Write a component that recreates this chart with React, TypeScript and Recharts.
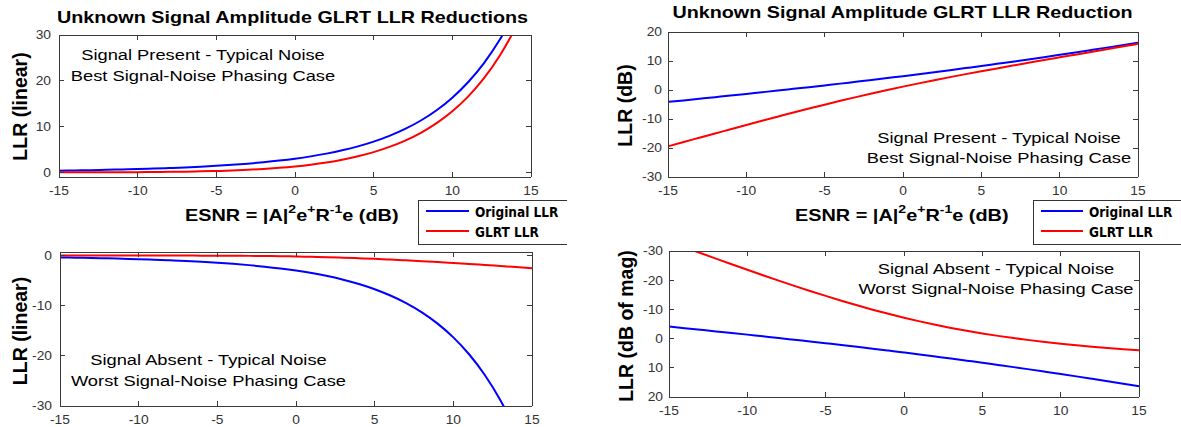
import React from 'react';
import { LineChart, Line, XAxis, YAxis } from 'recharts';

// ---------------- data ----------------
const ESNR_DB = [-15, -14, -13, -12, -11, -10, -9, -8, -7, -6, -5, -4, -3, -2, -1, 0, 1, 2, 3, 4, 5, 6, 7, 8, 9, 10, 11, 12, 13, 14, 15];

// Signal present, linear LLR
const ORIGINAL_PRESENT_LIN = [0.387, 0.439, 0.498, 0.566, 0.643, 0.732, 0.836, 0.955, 1.093, 1.254, 1.441, 1.66, 1.917, 2.22, 2.577, 3.0, 3.503, 4.103, 4.82, 5.682, 6.719, 7.972, 9.489, 11.333, 13.58, 16.325, 19.685, 23.811, 28.887, 35.143, 42.87];
const GLRT_PRESENT_LIN = [0.0114, 0.0161, 0.0226, 0.0317, 0.0445, 0.0622, 0.0867, 0.1203, 0.1662, 0.2283, 0.3117, 0.4223, 0.5676, 0.7564, 0.9988, 1.3069, 1.6947, 2.179, 2.7801, 3.5229, 4.4383, 5.5648, 6.9509, 8.6569, 10.7588, 13.3517, 16.5541, 20.5142, 25.4177, 31.4962, 39.0398];

// Signal present, LLR in dB
const ORIGINAL_PRESENT_DB = [-4.12, -3.58, -3.03, -2.47, -1.92, -1.36, -0.78, -0.2, 0.39, 0.98, 1.59, 2.2, 2.83, 3.46, 4.11, 4.77, 5.44, 6.13, 6.83, 7.55, 8.27, 9.02, 9.77, 10.54, 11.33, 12.13, 12.94, 13.77, 14.61, 15.46, 16.32];
const GLRT_PRESENT_DB = [-19.43, -17.93, -16.46, -14.99, -13.52, -12.06, -10.62, -9.2, -7.79, -6.41, -5.06, -3.74, -2.46, -1.21, -0.01, 1.16, 2.29, 3.38, 4.44, 5.47, 6.47, 7.45, 8.42, 9.37, 10.32, 11.26, 12.19, 13.12, 14.05, 14.98, 15.92];

// Signal absent, linear LLR
const ORIGINAL_ABSENT_LIN = [-0.387, -0.439, -0.498, -0.566, -0.643, -0.732, -0.836, -0.955, -1.093, -1.254, -1.441, -1.66, -1.917, -2.22, -2.577, -3.0, -3.503, -4.103, -4.82, -5.682, -6.719, -7.972, -9.489, -11.333, -13.58, -16.325, -19.685, -23.811, -28.887, -35.143, -42.87];
const GLRT_ABSENT_LIN = [-0.0005, -0.0008, -0.0012, -0.0018, -0.0028, -0.0044, -0.0068, -0.0103, -0.0156, -0.0233, -0.0345, -0.0504, -0.0724, -0.1023, -0.1419, -0.1931, -0.2576, -0.3365, -0.4309, -0.5409, -0.6663, -0.8064, -0.9601, -1.126, -1.3027, -1.4888, -1.6829, -1.8836, -2.09, -2.3009, -2.5157];

// Signal absent, dB of magnitude
const ORIGINAL_ABSENT_DBMAG = [-4.12, -3.58, -3.03, -2.47, -1.92, -1.36, -0.78, -0.2, 0.39, 0.98, 1.59, 2.2, 2.83, 3.46, 4.11, 4.77, 5.44, 6.13, 6.83, 7.55, 8.27, 9.02, 9.77, 10.54, 11.33, 12.13, 12.94, 13.77, 14.61, 15.46, 16.32];
const GLRT_ABSENT_DBMAG = [-33.19, -31.25, -29.3, -27.37, -25.45, -23.56, -21.7, -19.87, -18.07, -16.32, -14.62, -12.98, -11.4, -9.9, -8.48, -7.14, -5.89, -4.73, -3.66, -2.67, -1.76, -0.93, -0.18, 0.52, 1.15, 1.73, 2.26, 2.75, 3.2, 3.62, 4.01];

const X_TICKS = [-15, -10, -5, 0, 5, 10, 15];
const Y_TICKS_TL = [0, 10, 20, 30];
const Y_TICKS_BL = [-30, -20, -10, 0];
const Y_TICKS_TR = [-30, -20, -10, 0, 10, 20];
const Y_TICKS_BR = [-30, -20, -10, 0, 10, 20];

const SERIES_NAMES = ['Original LLR', 'GLRT LLR'];
const TITLE_LEFT = 'Unknown Signal Amplitude GLRT LLR Reductions';
const TITLE_RIGHT = 'Unknown Signal Amplitude GLRT LLR Reduction';
const NOTE_PRESENT = ['Signal Present - Typical Noise', 'Best Signal-Noise Phasing Case'];
const NOTE_ABSENT = ['Signal Absent - Typical Noise', 'Worst Signal-Noise Phasing Case'];
const YLABEL_LIN = 'LLR (linear)';
const YLABEL_DB = 'LLR (dB)';
const YLABEL_DBMAG = 'LLR (dB of mag)';

// ---------------- styles ----------------
const BLUE = '#0000ff';
const RED = '#ff0000';
const SERIES_COLORS = [BLUE, RED];
const AXIS = '#3a3a3a';
const TICK_COLOR = '#333333';
const FONT = "'Liberation Sans', Arial, Helvetica, sans-serif";
const LEGEND_FONT = "'DejaVu Sans', Verdana, sans-serif";
const TICK_LEN = 5;
const TICK_SX = 1.15;

const ML = 50, MT = 10, MR = 10, MB = 25;

const buildRows = (a: number[], b: number[]) => ESNR_DB.map((x, i) => ({ x, orig: a[i], glrt: b[i] }));

const BottomTick = (p: any) => (
  <g>
    <line x1={p.x} y1={p.y} x2={p.x} y2={p.y - TICK_LEN} stroke={AXIS} shapeRendering="crispEdges" />
    <text transform={`translate(${p.x},${p.y + 17.5}) scale(${TICK_SX},1)`} textAnchor="middle" fontSize={12} fill={TICK_COLOR} fontFamily={FONT}>
      {p.payload.value}
    </text>
  </g>
);
const TopTick = (p: any) => (
  <line x1={p.x} y1={p.y} x2={p.x} y2={p.y + TICK_LEN} stroke={AXIS} shapeRendering="crispEdges" />
);
const makeLeftTick = (gap: number) => (p: any) => (
  <g>
    <line x1={p.x} y1={p.y} x2={p.x + TICK_LEN} y2={p.y} stroke={AXIS} shapeRendering="crispEdges" />
    <text transform={`translate(${p.x - gap},${p.y + 4.3}) scale(${TICK_SX},1)`} textAnchor="end" fontSize={12} fill={TICK_COLOR} fontFamily={FONT}>
      {p.payload.value}
    </text>
  </g>
);
const RightTick = (p: any) => (
  <line x1={p.x} y1={p.y} x2={p.x - TICK_LEN} y2={p.y} stroke={AXIS} shapeRendering="crispEdges" />
);

type PanelProps = {
  left: number; top: number; plotW: number; plotH: number;
  rows: any[]; yDomain: [number, number]; yTicks: number[]; reversed?: boolean; gap: number;
};

function Panel({ left, top, plotW, plotH, rows, yDomain, yTicks, reversed, gap }: PanelProps) {
  const W = plotW + ML + MR;
  const H = plotH + MT + MB;
  const axisLine = { stroke: AXIS, shapeRendering: 'crispEdges' } as any;
  return (
    <div style={{ position: 'absolute', left: left - ML, top: top - MT, width: W, height: H }}>
      <LineChart width={W} height={H} data={rows} margin={{ top: 5, right: 5, bottom: 5, left: 0 }}>
        <XAxis xAxisId="b" dataKey="x" type="number" domain={[-15, 15]} ticks={X_TICKS} interval={0}
          orientation="bottom" height={20} tickSize={0} tickMargin={0} tickLine={false}
          axisLine={axisLine} tick={BottomTick} allowDataOverflow />
        <XAxis xAxisId="t" dataKey="x" type="number" domain={[-15, 15]} ticks={X_TICKS} interval={0}
          orientation="top" height={5} tickSize={0} tickMargin={0} tickLine={false}
          axisLine={axisLine} tick={TopTick} allowDataOverflow />
        <YAxis yAxisId="l" type="number" domain={yDomain} ticks={yTicks} interval={0}
          orientation="left" width={50} reversed={reversed} tickSize={0} tickMargin={0} tickLine={false}
          axisLine={axisLine} tick={makeLeftTick(gap)} allowDataOverflow />
        <YAxis yAxisId="r" type="number" domain={yDomain} ticks={yTicks} interval={0}
          orientation="right" width={5} reversed={reversed} tickSize={0} tickMargin={0} tickLine={false}
          axisLine={axisLine} tick={RightTick} allowDataOverflow />
        <Line xAxisId="b" yAxisId="l" dataKey="orig" name={SERIES_NAMES[0]} stroke={BLUE} strokeWidth={2}
          dot={false} activeDot={false} type="monotone" isAnimationActive={false} />
        <Line xAxisId="b" yAxisId="l" dataKey="glrt" name={SERIES_NAMES[1]} stroke={RED} strokeWidth={2}
          dot={false} activeDot={false} type="monotone" isAnimationActive={false} />
      </LineChart>
    </div>
  );
}

const Title = ({ cx, by, text }: { cx: number; by: number; text: string }) => (
  <text transform={`translate(${cx},${by}) scale(1.22,1)`} textAnchor="middle" fontSize={16.2}
    fontWeight="bold" fontFamily={FONT} fill="#000">{text}</text>
);

const Note = ({ cx, b1, b2, lines }: { cx: number; b1: number; b2: number; lines: string[] }) => (
  <g>
    <text transform={`translate(${cx},${b1}) scale(1.22,1)`} textAnchor="middle" fontSize={15} fontFamily={FONT} fill="#000">{lines[0]}</text>
    <text transform={`translate(${cx},${b2}) scale(1.22,1)`} textAnchor="middle" fontSize={15} fontFamily={FONT} fill="#000">{lines[1]}</text>
  </g>
);

const YLabel = ({ bx, cy, text }: { bx: number; cy: number; text: string }) => (
  <text transform={`translate(${bx},${cy}) rotate(-90)`} textAnchor="middle" fontSize={19.5}
    fontWeight="bold" fontFamily={FONT} fill="#000">{text}</text>
);

const XLabel = ({ x, by }: { x: number; by: number }) => (
  <text transform={`translate(${x},${by}) scale(1.22,1)`} fontSize={16.3} fontWeight="bold" fontFamily={FONT} fill="#000">
    ESNR = |A|<tspan fontSize={11.5} dy={-8}>2</tspan><tspan dy={8}>e</tspan><tspan fontSize={11.5} dy={-8}>+</tspan><tspan dy={8}>R</tspan><tspan fontSize={11.5} dy={-8}>-1</tspan><tspan dy={8}>e (dB)</tspan>
  </text>
);

const LegendBox = ({ x, lineX1, lineX2, textX, clipId, clipRight }: { x: number; lineX1: number; lineX2: number; textX: number; clipId: string; clipRight: number }) => (
  <g clipPath={`url(#${clipId})`}>
    <defs>
      <clipPath id={clipId}>
        <rect x={0} y={0} width={clipRight} height={427} />
      </clipPath>
    </defs>
    <rect x={x + 0.5} y={200.5} width={220} height={44} fill="#fff" stroke="#333" strokeWidth={1} />
    {SERIES_NAMES.map((name, i) => (
      <g key={name}>
        <line x1={lineX1} x2={lineX2} y1={211 + i * 20} y2={211 + i * 20} stroke={SERIES_COLORS[i]} strokeWidth={2} />
        <text transform={`translate(${textX},${217 + i * 20}) scale(0.9,1)`} fontSize={13.5} fontWeight="bold"
          fontFamily={LEGEND_FONT} fill="#000">{name}</text>
      </g>
    ))}
  </g>
);

export default function App() {
  const rowsTL = buildRows(ORIGINAL_PRESENT_LIN, GLRT_PRESENT_LIN);
  const rowsBL = buildRows(ORIGINAL_ABSENT_LIN, GLRT_ABSENT_LIN);
  const rowsTR = buildRows(ORIGINAL_PRESENT_DB, GLRT_PRESENT_DB);
  const rowsBR = buildRows(ORIGINAL_ABSENT_DBMAG, GLRT_ABSENT_DBMAG);
  return (
    <div style={{ position: 'absolute', left: 0, top: 0, width: 1181, height: 427, background: '#fff', overflow: 'hidden' }}>
      <Panel left={59} top={35} plotW={472} plotH={142} rows={rowsTL} yDomain={[-1, 30]} yTicks={Y_TICKS_TL} gap={8} />
      <Panel left={60} top={252} plotW={472} plotH={154} rows={rowsBL} yDomain={[-30, 0.7]} yTicks={Y_TICKS_BL} gap={8} />
      <Panel left={668} top={32} plotW={470} plotH={145} rows={rowsTR} yDomain={[-30, 20]} yTicks={Y_TICKS_TR} gap={6} />
      <Panel left={669} top={251} plotW={470} plotH={146} rows={rowsBR} yDomain={[-30, 20]} yTicks={Y_TICKS_BR} reversed gap={6} />
      <svg width={1181} height={427} style={{ position: 'absolute', left: 0, top: 0, pointerEvents: 'none' }}>
        <Title cx={292.5} by={23.3} text={TITLE_LEFT} />
        <Title cx={902.5} by={18.3} text={TITLE_RIGHT} />
        <Note cx={203} b1={60} b2={81} lines={NOTE_PRESENT} />
        <Note cx={208.5} b1={365} b2={385.5} lines={NOTE_ABSENT} />
        <Note cx={999} b1={142.5} b2={162.5} lines={NOTE_PRESENT} />
        <Note cx={996} b1={273.5} b2={294} lines={NOTE_ABSENT} />
        <YLabel bx={26.5} cy={106.5} text={YLABEL_LIN} />
        <YLabel bx={26.5} cy={331} text={YLABEL_LIN} />
        <YLabel bx={632} cy={105.5} text={YLABEL_DB} />
        <YLabel bx={632.5} cy={326} text={YLABEL_DBMAG} />
        <XLabel x={185} by={221} />
        <XLabel x={795} by={221} />
        <LegendBox x={418} lineX1={426} lineX2={469} textX={475} clipId="legL" clipRight={567} />
        <LegendBox x={1033} lineX1={1041} lineX2={1083} textX={1089} clipId="legR" clipRight={1181} />
      </svg>
    </div>
  );
}
